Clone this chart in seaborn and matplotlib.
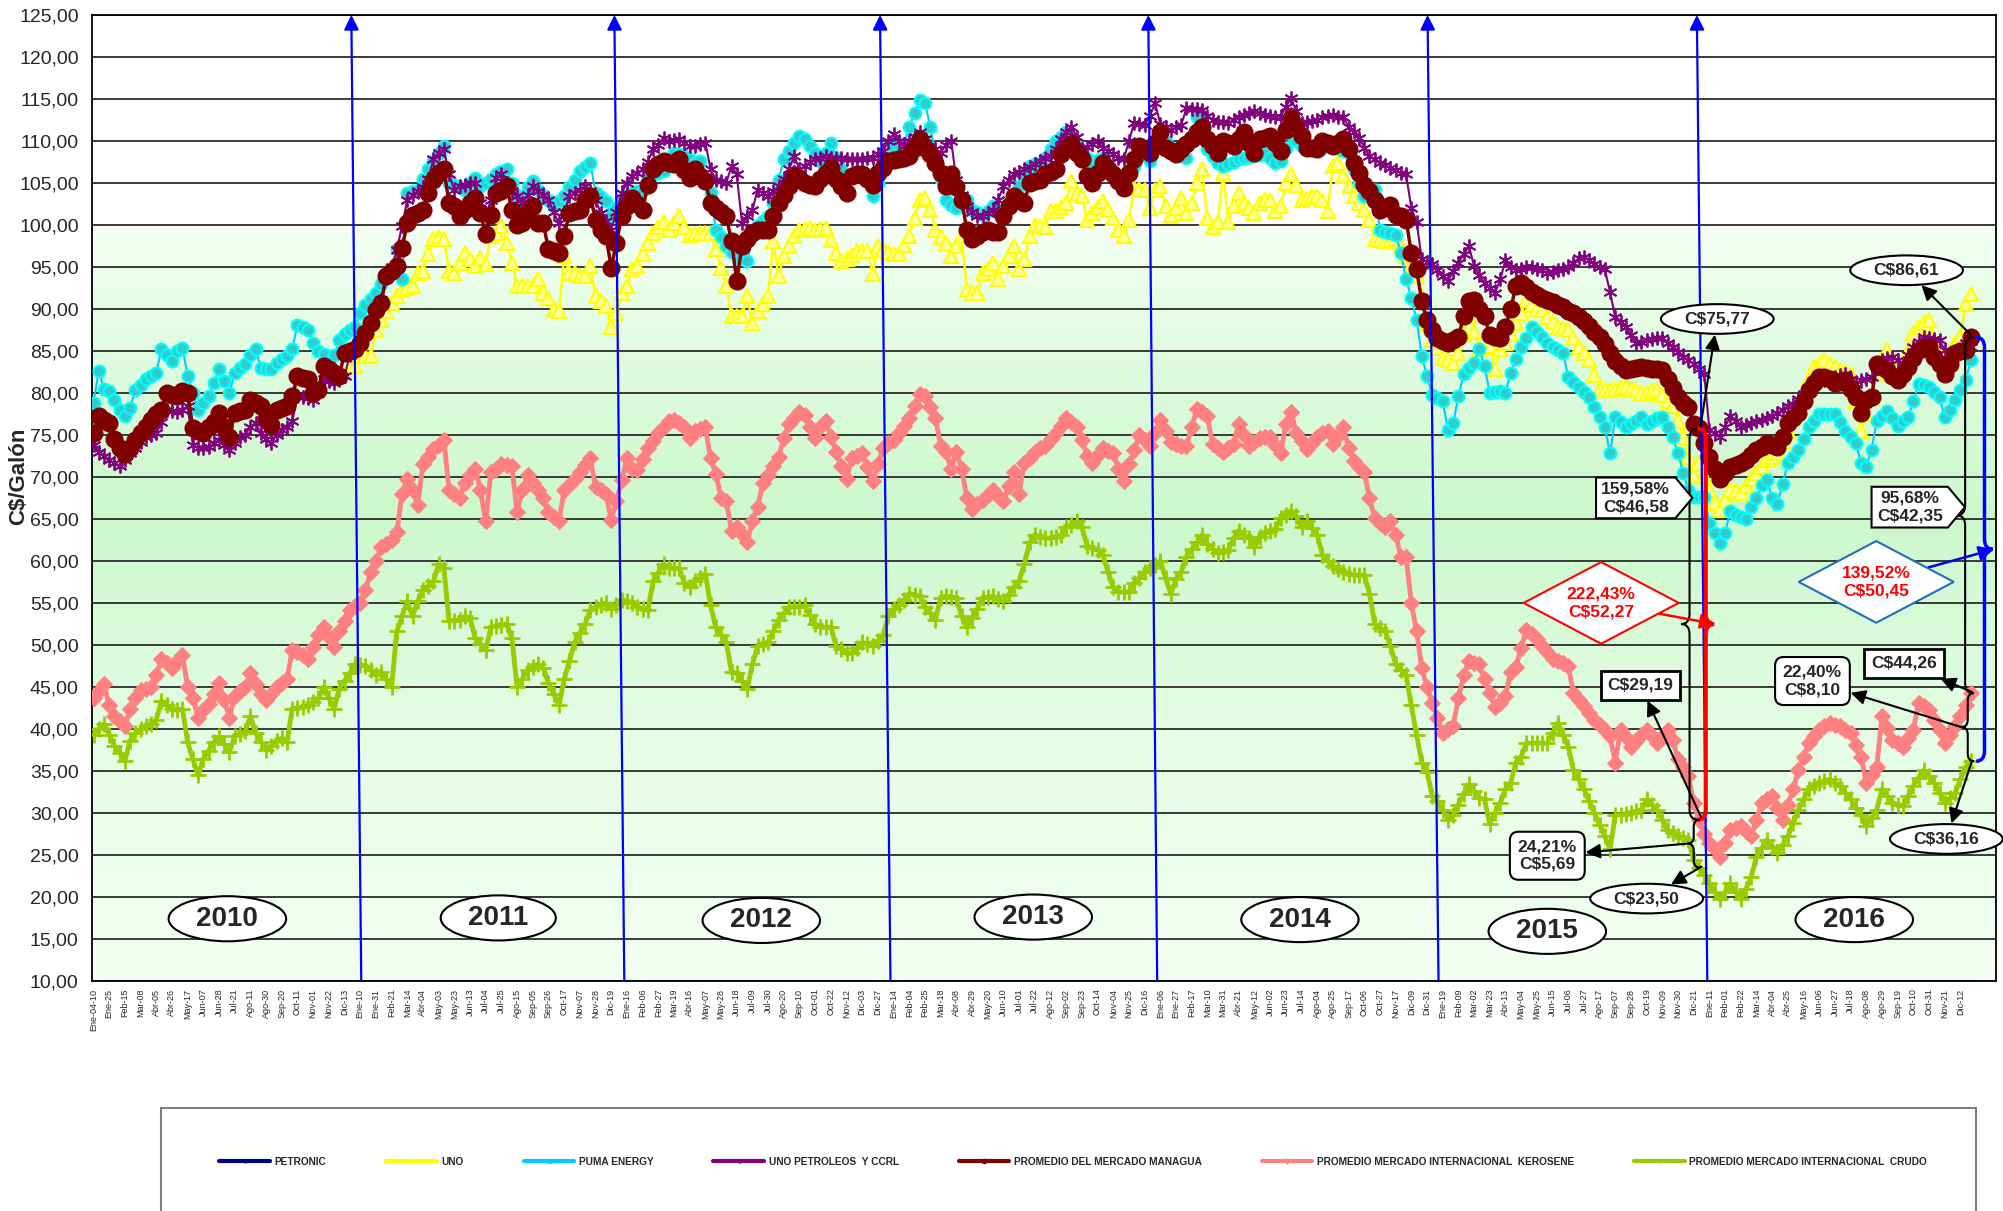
import numpy as np
import matplotlib
matplotlib.use('Agg')
import matplotlib.pyplot as plt
import seaborn as sns
from matplotlib.path import Path
from matplotlib.patches import PathPatch, Rectangle
from matplotlib.lines import Line2D
from matplotlib.colors import LinearSegmentedColormap

sns.set_theme(style='white')
plt.rcParams['font.family'] = ['Liberation Sans', 'DejaVu Sans']

# weekly prices C$/galon, Ene-04-2010 .. Dic-26-2016
promedio = [
    75.2, 77.2, 76.8, 76.4, 74.5, 73.5, 72.7, 73.5, 74.4, 75.2,
    76.0, 76.8, 77.5, 78.0, 80.0, 79.8, 79.6, 80.2, 80.0, 75.8,
    75.5, 75.2, 76.0, 76.5, 77.6, 76.0, 74.8, 77.6, 77.8, 78.0,
    79.2, 78.8, 78.4, 77.0, 76.2, 78.0, 78.2, 78.4, 79.6, 82.0,
    81.8, 81.6, 80.0, 80.4, 83.2, 82.8, 82.4, 82.0, 84.8, 85.0,
    85.2, 86.0, 87.1, 88.3, 89.9, 90.7, 93.9, 94.5, 95.1, 97.3,
    100.2, 101.2, 101.4, 101.8, 103.8, 105.4, 106.2, 106.6, 102.6, 102.2,
    101.0, 101.8, 102.6, 103.2, 101.4, 98.9, 101.2, 103.8, 104.0, 104.6,
    101.8, 100.0, 100.2, 101.5, 102.2, 100.2, 100.2, 97.1, 96.9, 96.7,
    98.7, 101.4, 101.6, 101.8, 103.0, 103.4, 100.6, 99.4, 98.7, 94.9,
    97.9, 101.0, 102.2, 103.2, 102.5, 101.8, 104.8, 106.6, 107.2, 107.6,
    107.4, 107.2, 107.8, 106.5, 105.6, 106.6, 105.8, 105.2, 102.6, 102.0,
    101.5, 101.0, 98.1, 93.3, 97.5, 98.3, 99.0, 99.4, 99.4, 99.4,
    101.0, 102.6, 103.5, 104.6, 105.8, 105.6, 105.0, 104.8, 104.6, 105.5,
    106.2, 106.8, 105.5, 104.6, 103.8, 105.8, 106.0, 106.0, 105.5, 104.8,
    106.2, 106.8, 107.6, 107.7, 107.8, 108.0, 108.2, 109.2, 110.2, 109.2,
    108.4, 107.4, 106.2, 104.6, 106.0, 104.5, 103.0, 99.4, 98.3, 98.7,
    99.1, 99.4, 99.2, 99.1, 101.0, 102.2, 103.4, 103.0, 102.6, 105.0,
    105.2, 105.4, 106.0, 106.3, 106.6, 108.4, 109.0, 109.6, 108.6, 107.8,
    105.8, 105.0, 106.2, 107.4, 106.7, 106.0, 105.2, 104.4, 106.2, 107.8,
    109.4, 109.0, 108.6, 109.8, 111.0, 109.2, 108.8, 108.4, 109.0, 109.6,
    110.2, 111.0, 111.7, 110.2, 109.4, 108.6, 110.0, 109.7, 109.4, 110.2,
    111.0, 109.8, 108.6, 110.2, 110.4, 110.6, 109.7, 108.8, 111.3, 112.7,
    111.5, 110.6, 109.2, 109.1, 109.0, 110.0, 109.7, 109.4, 109.8, 110.2,
    109.0, 107.4, 106.2, 104.8, 104.0, 103.0, 101.8, 102.0, 102.4, 101.2,
    101.0, 100.6, 96.7, 94.7, 90.9, 88.7, 87.5, 86.5, 86.2, 85.9,
    86.3, 86.7, 89.1, 90.9, 91.1, 90.0, 89.1, 86.9, 86.7, 86.5,
    87.9, 90.0, 92.7, 93.1, 92.6, 92.0, 91.6, 91.3, 91.0, 90.8,
    90.5, 90.2, 89.8, 89.5, 89.0, 88.5, 88.0, 87.2, 86.7, 85.8,
    84.8, 83.8, 83.2, 82.7, 82.9, 83.0, 83.1, 83.0, 82.9, 82.8,
    82.7, 81.6, 80.6, 79.5, 78.8, 78.3, 76.3, 75.77, 74.0, 72.4,
    70.9, 69.7, 70.5, 71.2, 71.4, 71.6, 72.0, 72.6, 73.2, 73.6,
    74.0, 73.8, 73.6, 74.8, 76.4, 77.0, 77.6, 79.0, 80.4, 81.2,
    81.9, 81.9, 81.6, 81.2, 81.3, 81.5, 80.5, 79.5, 77.6, 79.1,
    79.5, 83.5, 83.1, 82.7, 82.0, 81.5, 82.3, 83.1, 84.1, 85.1,
    85.3, 85.5, 84.3, 83.5, 82.3, 83.5, 84.7, 85.0, 85.1, 86.61,
]

uno_petroleos = [
    73.8, 73.0, 72.5, 72.0, 71.6, 71.3, 72.0, 72.8, 73.4, 74.2,
    74.8, 75.0, 75.2, 76.5, 78.0, 77.8, 77.7, 78.0, 78.4, 73.8,
    73.4, 73.5, 73.6, 74.0, 74.4, 73.8, 73.2, 74.0, 74.8, 75.0,
    76.0, 76.4, 75.2, 74.5, 74.0, 75.0, 75.6, 76.0, 76.6, 79.6,
    79.5, 79.4, 79.2, 80.0, 81.6, 81.4, 81.2, 81.6, 82.0, 84.5,
    85.0, 86.0, 87.5, 88.5, 90.0, 91.0, 94.0, 95.0, 97.0, 99.9,
    103.0, 103.5, 104.0, 104.5, 105.5, 107.8, 108.5, 109.0, 106.0, 104.2,
    104.6, 104.8, 105.0, 105.0, 102.6, 101.0, 103.0, 105.6, 106.0, 105.0,
    104.0, 103.4, 102.6, 103.5, 104.6, 104.0, 103.5, 103.0, 101.5, 100.2,
    101.5, 103.4, 103.8, 104.2, 104.6, 104.0, 103.0, 101.4, 100.5, 99.4,
    101.5, 103.8, 105.0, 105.8, 106.2, 106.6, 107.5, 109.0, 109.5, 110.4,
    110.0, 110.1, 110.2, 109.8, 109.4, 109.4, 109.6, 109.8, 106.6, 105.4,
    105.2, 105.0, 107.0, 106.0, 100.2, 101.0, 101.8, 104.2, 103.8, 103.4,
    104.0, 104.6, 105.5, 106.6, 108.2, 106.6, 107.0, 107.5, 107.8, 108.0,
    108.2, 108.0, 108.0, 108.0, 107.9, 107.8, 107.8, 107.9, 108.0, 108.0,
    108.4, 108.8, 110.0, 110.8, 110.0, 109.4, 110.0, 110.5, 111.0, 110.2,
    109.4, 109.0, 108.6, 109.5, 110.0, 105.4, 103.5, 102.2, 101.5, 101.0,
    101.0, 101.4, 101.8, 103.0, 104.6, 105.3, 106.0, 106.3, 106.6, 106.9,
    107.2, 107.6, 108.0, 108.2, 109.0, 110.2, 111.0, 111.7, 110.5, 109.0,
    109.3, 109.6, 110.0, 109.2, 108.8, 108.4, 108.0, 107.8, 110.0, 112.1,
    112.0, 111.9, 113.0, 114.5, 112.0, 111.7, 111.3, 111.6, 111.9, 113.9,
    113.8, 113.8, 113.7, 113.0, 112.5, 112.3, 112.2, 112.1, 112.5, 112.9,
    113.1, 113.3, 113.5, 113.3, 113.1, 113.0, 112.9, 112.9, 114.0, 115.1,
    113.5, 112.1, 112.3, 112.4, 112.5, 112.8, 113.0, 113.1, 112.9, 112.9,
    111.7, 111.0, 110.4, 109.2, 108.2, 107.8, 107.4, 107.1, 106.8, 106.5,
    106.2, 106.0, 102.0, 100.4, 95.9, 95.6, 95.3, 94.6, 93.9, 93.3,
    94.5, 95.5, 96.5, 97.5, 95.1, 94.0, 93.1, 92.5, 91.9, 93.5,
    95.8, 95.0, 94.6, 94.8, 95.0, 95.0, 94.8, 94.6, 94.3, 94.4,
    94.6, 94.7, 95.0, 95.5, 96.0, 96.2, 95.8, 95.4, 95.0, 94.7,
    92.0, 89.0, 88.4, 87.8, 86.9, 86.0, 86.1, 86.3, 86.4, 86.5,
    86.5, 86.0, 85.5, 84.9, 84.3, 83.9, 83.5, 82.9, 82.3, 75.6,
    75.2, 74.8, 76.0, 77.2, 76.6, 76.0, 76.2, 76.4, 76.6, 76.8,
    77.0, 77.2, 77.6, 78.0, 78.4, 78.7, 79.3, 79.9, 80.5, 81.1,
    81.3, 81.5, 81.7, 81.9, 82.1, 82.3, 81.7, 81.1, 81.5, 81.7,
    81.9, 83.0, 83.9, 84.1, 84.3, 83.9, 83.5, 84.5, 85.5, 86.1,
    86.7, 86.5, 86.4, 86.3, 85.1, 83.9, 84.5, 85.1, 86.0, 85.5,
]

puma = [
    78.8, 82.6, 80.5, 80.2, 79.2, 78.0, 77.2, 78.2, 80.4, 81.0,
    81.6, 82.0, 82.4, 85.2, 84.5, 83.8, 85.0, 85.4, 82.0, 80.0,
    78.0, 78.8, 79.6, 81.2, 82.8, 81.4, 80.0, 82.4, 83.0, 83.4,
    84.5, 85.2, 83.0, 82.9, 82.8, 83.6, 84.0, 84.4, 85.2, 88.1,
    87.8, 87.5, 86.0, 85.0, 84.6, 83.6, 84.5, 86.3, 87.0, 87.5,
    87.9, 89.5, 90.5, 91.2, 91.9, 93.0, 94.0, 94.3, 97.1, 93.5,
    103.8, 104.0, 104.2, 105.5, 106.6, 107.6, 108.6, 109.4, 105.0, 104.8,
    104.5, 104.2, 105.0, 105.6, 104.6, 105.0, 105.5, 106.0, 106.4, 106.6,
    105.0, 103.5, 103.0, 104.5, 105.2, 104.2, 103.5, 103.0, 102.2, 102.8,
    103.4, 104.5, 105.4, 106.4, 106.9, 107.4, 103.8, 103.3, 102.8, 101.0,
    102.0, 103.0, 103.4, 103.8, 104.0, 104.2, 105.8, 106.0, 106.2, 106.4,
    107.5, 108.6, 108.4, 108.2, 107.8, 107.4, 107.6, 105.5, 103.8, 99.4,
    98.5, 97.5, 96.8, 96.3, 96.0, 95.7, 98.7, 100.0, 100.5, 101.0,
    102.6, 105.4, 107.8, 108.8, 109.8, 110.6, 110.2, 109.4, 108.6, 107.6,
    108.5, 109.8, 108.0, 106.6, 105.6, 106.0, 106.2, 106.1, 106.0, 103.4,
    105.0, 107.2, 108.2, 109.2, 109.4, 109.6, 111.7, 113.3, 114.9, 114.5,
    111.7, 108.2, 105.5, 103.0, 102.4, 102.0, 102.5, 103.0, 101.8, 101.5,
    101.2, 101.7, 102.2, 101.8, 101.4, 102.0, 102.6, 104.6, 105.8, 107.0,
    107.2, 107.4, 108.0, 109.0, 110.0, 110.5, 111.0, 110.2, 109.6, 108.8,
    108.0, 107.4, 107.7, 108.0, 107.0, 106.2, 105.8, 105.4, 106.2, 107.0,
    109.2, 108.4, 107.6, 109.2, 110.8, 110.0, 109.2, 108.7, 108.2, 108.0,
    110.5, 112.9, 110.5, 109.0, 108.2, 107.4, 107.0, 107.2, 107.5, 107.8,
    108.0, 108.1, 108.2, 108.3, 108.4, 108.0, 107.4, 107.6, 109.2, 110.8,
    110.0, 109.4, 109.2, 109.0, 109.1, 109.2, 109.4, 109.6, 109.2, 108.8,
    108.6, 106.6, 105.0, 103.4, 104.0, 104.2, 99.4, 99.2, 99.0, 98.8,
    96.7, 93.5, 91.3, 88.7, 84.4, 82.0, 79.8, 79.4, 79.0, 75.6,
    76.4, 79.6, 82.2, 83.0, 83.6, 85.2, 83.2, 80.0, 80.1, 80.2,
    80.0, 82.4, 84.0, 85.5, 86.5, 87.9, 87.2, 86.7, 86.0, 85.5,
    85.1, 84.8, 81.9, 81.3, 80.7, 80.1, 79.5, 78.3, 77.1, 75.9,
    72.8, 77.1, 76.5, 75.9, 76.3, 76.7, 77.1, 76.3, 76.7, 77.0,
    77.1, 75.9, 74.7, 72.8, 70.5, 68.5, 67.6, 67.6, 67.6, 64.5,
    63.3, 62.1, 63.3, 66.0, 65.5, 65.2, 65.0, 66.4, 67.5, 69.0,
    69.6, 67.5, 66.8, 69.2, 71.6, 72.4, 73.2, 74.5, 75.9, 76.7,
    77.5, 77.5, 77.5, 77.5, 76.5, 75.5, 74.8, 74.0, 71.6, 71.2,
    73.2, 76.7, 77.3, 77.9, 77.0, 76.1, 76.6, 77.1, 79.0, 81.1,
    80.9, 80.7, 80.1, 79.5, 77.1, 78.0, 79.1, 80.3, 81.5, 83.9,
]

# UNO series starts in week 49 (Dic-2010)
uno_start = 49
uno = [
    83.2,
    83.2, 84.4, 84.4, 84.4, 87.5, 88.7, 89.7, 90.7, 91.5, 92.3,
    92.5, 92.7, 94.3, 94.5, 96.5, 98.3, 98.5, 98.3, 94.5, 94.3,
    95.5, 96.7, 95.9, 95.1, 96.1, 95.3, 98.7, 99.0, 99.9, 97.9,
    95.5, 92.7, 92.7, 92.7, 92.7, 93.5, 91.9, 91.3, 89.9, 89.7,
    96.3, 94.3, 94.3, 93.9, 93.9, 95.1, 91.5, 90.9, 90.3, 87.9,
    89.5, 91.9, 92.7, 94.7, 95.1, 96.5, 97.9, 99.0, 99.7, 100.4,
    99.4, 100.2, 101.0, 99.8, 98.8, 98.9, 99.0, 99.0, 99.0, 97.1,
    94.9, 92.7, 89.1, 89.1, 89.1, 91.5, 88.3, 89.7, 90.6, 91.5,
    98.1, 93.9, 96.3, 97.5, 98.7, 99.4, 99.5, 99.6, 99.4, 99.5,
    99.6, 98.2, 96.7, 95.7, 95.9, 96.4, 96.9, 96.9, 96.9, 94.1,
    97.5, 97.1, 96.8, 96.5, 96.5, 97.6, 98.7, 100.8, 103.0, 103.2,
    101.8, 99.4, 98.6, 97.9, 96.3, 97.5, 98.7, 92.3, 91.9, 91.9,
    94.3, 94.7, 95.5, 93.5, 95.1, 96.3, 97.5, 94.7, 95.9, 98.7,
    100.0, 99.9, 99.8, 101.6, 101.6, 102.1, 102.6, 105.2, 103.8, 103.4,
    100.6, 101.4, 102.1, 102.8, 101.8, 100.8, 99.4, 98.7, 100.6, 104.4,
    104.3, 104.2, 102.0, 104.2, 104.6, 102.2, 101.2, 102.0, 103.2, 101.4,
    102.6, 105.0, 106.6, 100.8, 99.8, 100.3, 106.2, 100.4, 102.2, 103.8,
    102.6, 102.0, 101.4, 102.6, 103.0, 103.0, 101.6, 102.2, 105.0, 106.0,
    104.8, 103.0, 103.2, 103.4, 103.4, 103.0, 101.6, 107.0, 107.4, 105.8,
    104.6, 103.4, 102.6, 101.8, 100.6, 98.3, 98.2, 98.1, 98.2, 98.3,
    97.5, 96.3, 95.1, 93.9, 91.5, 88.3, 86.3, 85.3, 84.2, 83.9,
    83.6, 84.8, 87.0, 89.1, 87.2, 85.2, 85.4, 85.6, 82.8, 85.2,
    86.0, 87.0, 88.3, 89.5, 91.1, 90.5, 90.0, 89.9, 89.0, 88.4,
    87.9, 87.7, 87.5, 86.5, 85.5, 84.7, 83.9, 82.1, 80.4, 80.4,
    80.4, 80.5, 80.6, 80.7, 80.5, 80.3, 80.0, 80.0, 80.2, 80.4,
    79.7, 79.0, 78.4, 76.6, 74.8, 72.4, 70.1, 71.6, 70.1, 68.5,
    66.9, 66.1, 67.3, 68.5, 68.3, 68.1, 68.9, 69.7, 70.5, 71.2,
    72.0, 72.4, 72.8, 74.2, 75.5, 77.0, 78.4, 80.0, 81.6, 83.1,
    83.5, 83.9, 83.5, 83.1, 82.7, 82.5, 82.3, 79.0, 75.5, 77.5,
    79.5, 82.3, 84.0, 85.1, 84.0, 83.0, 82.7, 84.9, 87.1, 87.9,
    88.3, 88.7, 86.3, 85.0, 83.5, 84.7, 85.9, 86.7, 90.6, 91.8,
]

kerosene = [
    43.7, 44.5, 45.3, 42.8, 41.5, 41.0, 40.4, 42.4, 43.7, 44.6,
    44.8, 45.0, 46.4, 48.3, 47.8, 47.2, 48.1, 48.8, 45.0, 43.7,
    41.3, 42.2, 43.0, 44.2, 45.5, 43.4, 41.3, 43.9, 44.5, 45.0,
    46.6, 45.4, 44.2, 43.5, 44.2, 45.0, 45.5, 45.9, 49.4, 49.1,
    48.8, 48.3, 49.8, 51.2, 52.1, 50.9, 49.7, 51.6, 52.8, 54.1,
    54.6, 55.0, 56.5, 58.7, 60.0, 61.6, 62.0, 62.5, 63.4, 68.0,
    69.8, 68.4, 66.6, 71.5, 72.4, 73.3, 73.8, 74.4, 68.4, 68.0,
    67.5, 69.3, 70.2, 71.0, 68.4, 64.7, 70.6, 71.0, 71.5, 71.4,
    71.3, 65.8, 68.4, 70.2, 69.3, 68.4, 67.5, 65.8, 65.2, 64.7,
    68.4, 69.0, 69.7, 70.6, 71.4, 72.2, 68.8, 68.4, 68.0, 64.9,
    67.1, 69.6, 72.2, 71.0, 70.8, 72.1, 73.5, 74.3, 75.2, 76.0,
    76.6, 76.8, 76.4, 75.9, 74.6, 75.5, 75.7, 75.9, 72.2, 70.4,
    67.5, 67.1, 63.6, 64.0, 63.2, 62.3, 64.7, 66.4, 69.3, 70.2,
    71.3, 72.4, 74.6, 76.3, 77.0, 77.7, 77.4, 76.0, 74.6, 75.9,
    76.6, 74.8, 73.0, 71.3, 69.7, 72.2, 72.5, 72.8, 71.2, 69.5,
    71.5, 73.5, 74.0, 74.4, 75.2, 76.1, 77.0, 78.5, 79.9, 79.6,
    78.3, 77.0, 73.7, 73.0, 71.0, 73.0, 71.0, 67.5, 66.2, 66.8,
    67.3, 67.9, 68.4, 67.7, 67.1, 68.9, 70.6, 68.0, 71.7, 72.3,
    73.0, 73.4, 73.7, 74.5, 75.2, 76.1, 77.0, 76.5, 75.9, 74.4,
    72.5, 71.7, 72.6, 73.5, 73.1, 72.8, 71.0, 69.5, 71.5, 73.2,
    75.0, 74.4, 73.7, 75.2, 76.8, 75.5, 74.1, 73.9, 73.7, 73.7,
    76.0, 78.1, 77.7, 77.2, 73.9, 73.5, 73.0, 73.5, 73.9, 76.3,
    75.0, 73.7, 74.2, 74.6, 74.7, 74.8, 73.8, 72.8, 76.3, 77.7,
    75.2, 74.3, 73.3, 74.0, 74.8, 75.2, 75.5, 73.9, 74.9, 75.9,
    73.5, 71.9, 71.2, 70.6, 67.5, 65.1, 64.5, 64.0, 64.7, 63.1,
    60.5, 60.5, 55.0, 51.6, 47.2, 45.0, 43.1, 41.3, 39.5, 40.0,
    40.4, 43.7, 46.4, 48.1, 47.9, 47.7, 45.9, 44.3, 42.6, 43.1,
    43.9, 46.8, 47.4, 49.6, 51.8, 51.3, 50.7, 49.9, 49.1, 48.3,
    48.1, 47.9, 47.5, 44.3, 43.5, 42.7, 41.9, 41.1, 40.5, 39.9,
    39.1, 36.0, 39.9, 39.0, 37.9, 38.6, 39.3, 39.9, 39.1, 38.3,
    39.1, 39.9, 38.7, 36.4, 35.5, 34.4, 31.2, 29.19, 27.5, 26.4,
    25.7, 24.7, 26.4, 28.0, 28.2, 28.4, 27.8, 27.2, 29.2, 31.2,
    31.6, 32.0, 30.6, 29.2, 31.0, 32.8, 35.1, 36.7, 38.3, 39.1,
    39.9, 40.3, 40.7, 40.5, 40.3, 39.9, 39.5, 38.1, 36.7, 33.6,
    34.5, 35.5, 41.5, 40.1, 38.7, 38.3, 37.9, 38.9, 39.9, 43.1,
    42.7, 42.3, 41.1, 39.9, 38.3, 39.3, 40.3, 41.5, 42.9, 44.26,
]

crudo = [
    39.3, 40.0, 40.6, 39.3, 38.0, 37.1, 36.2, 38.6, 39.5, 40.0,
    40.3, 40.6, 41.1, 43.3, 42.8, 42.4, 42.2, 42.4, 38.4, 36.4,
    34.5, 36.4, 37.4, 38.4, 39.1, 38.2, 37.3, 39.1, 39.4, 39.7,
    41.5, 39.5, 38.5, 37.5, 38.0, 38.6, 38.9, 38.4, 42.4, 42.5,
    42.6, 42.8, 43.2, 43.7, 45.0, 43.7, 42.4, 44.8, 45.7, 46.6,
    47.7, 47.6, 47.5, 47.0, 46.4, 46.8, 45.9, 45.0, 51.6, 53.4,
    55.2, 53.4, 55.2, 56.5, 57.0, 57.6, 59.6, 59.1, 52.8, 52.9,
    53.0, 53.4, 53.2, 50.8, 50.1, 49.4, 52.1, 52.3, 52.4, 52.5,
    50.8, 45.0, 45.9, 47.0, 47.4, 47.7, 47.2, 45.5, 44.2, 42.8,
    45.9, 48.1, 50.3, 51.4, 52.5, 54.1, 54.5, 54.8, 55.0, 54.3,
    54.8, 55.4, 55.2, 55.0, 54.5, 54.3, 54.1, 57.6, 58.6, 59.6,
    59.1, 59.1, 59.1, 57.4, 56.9, 57.6, 58.0, 58.5, 54.7, 52.1,
    51.2, 50.3, 46.8, 46.6, 45.7, 44.8, 47.7, 49.9, 50.1, 50.3,
    51.6, 53.0, 53.8, 54.5, 54.5, 54.5, 54.7, 53.6, 52.5, 52.1,
    52.1, 52.1, 49.9, 49.5, 49.0, 49.0, 49.6, 50.3, 50.1, 49.9,
    50.5, 51.2, 53.4, 54.3, 54.8, 55.4, 56.1, 56.0, 55.8, 54.5,
    53.8, 53.0, 55.6, 55.8, 55.7, 55.6, 53.4, 52.1, 53.2, 54.3,
    55.6, 55.7, 55.8, 55.5, 55.2, 56.0, 56.9, 57.6, 59.6, 62.2,
    63.1, 62.9, 62.7, 62.7, 62.9, 63.1, 64.0, 64.3, 64.7, 64.0,
    61.8, 61.5, 61.3, 60.7, 58.7, 56.9, 56.3, 56.3, 56.3, 57.4,
    58.0, 58.7, 59.1, 59.5, 60.0, 58.0, 56.1, 57.8, 58.7, 60.5,
    61.4, 62.2, 63.1, 62.0, 61.4, 60.9, 61.1, 61.3, 62.7, 63.6,
    63.1, 62.7, 61.6, 62.9, 63.3, 63.6, 63.8, 65.1, 65.5, 66.0,
    65.3, 64.0, 64.7, 63.9, 63.1, 60.7, 60.0, 59.4, 59.0, 58.7,
    58.5, 58.3, 58.3, 58.3, 56.1, 52.5, 52.0, 51.6, 49.9, 47.7,
    47.0, 46.4, 42.8, 39.3, 36.0, 34.9, 32.0, 31.4, 30.3, 29.2,
    29.8, 31.0, 32.3, 33.4, 32.6, 31.8, 31.6, 28.7, 30.0, 31.2,
    32.8, 33.6, 36.0, 36.7, 38.3, 38.3, 38.3, 38.3, 38.3, 39.5,
    40.7, 39.3, 37.9, 35.1, 34.0, 32.8, 31.4, 30.0, 28.6, 27.2,
    25.7, 29.7, 29.8, 29.9, 30.0, 30.2, 30.4, 31.6, 31.0, 30.4,
    29.2, 28.0, 27.6, 27.2, 27.0, 26.8, 24.4, 23.50, 22.6, 21.6,
    20.6, 19.7, 20.6, 21.6, 20.6, 19.7, 21.0, 22.4, 24.8, 25.8,
    26.8, 26.0, 25.2, 26.2, 27.2, 28.8, 30.4, 31.6, 32.8, 33.2,
    33.6, 33.8, 34.0, 33.6, 33.2, 32.4, 31.6, 30.6, 29.7, 28.4,
    29.4, 30.4, 32.8, 32.0, 31.2, 31.0, 30.8, 32.0, 33.2, 34.2,
    35.1, 34.4, 33.6, 32.4, 31.2, 31.8, 32.4, 34.0, 35.5, 36.16,
]

tick_labels = [
    'Ene-04-10', 'Ene-25', 'Feb-15', 'Mar-08', 'Abr-05', 'Abr-26', 'May-17', 'Jun-07', 'Jun-28', 'Jul-21',
    'Ago-11', 'Ago-30', 'Sep-20', 'Oct-11', 'Nov-01', 'Nov-22', 'Dic-13', 'Ene-10', 'Ene-31', 'Feb-21',
    'Mar-14', 'Abr-04', 'May-03', 'May-23', 'Jun-13', 'Jul-04', 'Jul-25', 'Ago-15', 'Sep-05', 'Sep-26',
    'Oct-17', 'Nov-07', 'Nov-28', 'Dic-19', 'Ene-16', 'Feb-06', 'Feb-27', 'Mar-19', 'Abr-16', 'May-07',
    'May-28', 'Jun-18', 'Jul-09', 'Jul-30', 'Ago-20', 'Sep-10', 'Oct-01', 'Oct-22', 'Nov-12', 'Dic-03',
    'Dic-27', 'Ene-14', 'Feb-04', 'Feb-25', 'Mar-18', 'Abr-08', 'Abr-29', 'May-20', 'Jun-10', 'Jul-01',
    'Jul-22', 'Ago-12', 'Sep-02', 'Sep-23', 'Oct-14', 'Nov-04', 'Nov-25', 'Dic-16', 'Ene-06', 'Ene-27',
    'Feb-17', 'Mar-10', 'Mar-31', 'Abr-21', 'May-12', 'Jun-02', 'Jun-23', 'Jul-14', 'Ago-04', 'Ago-25',
    'Sep-17', 'Oct-06', 'Oct-27', 'Nov-17', 'Dic-09', 'Dic-31', 'Ene-19', 'Feb-09', 'Mar-02', 'Mar-23',
    'Abr-13', 'May-04', 'May-25', 'Jun-15', 'Jul-06', 'Jul-27', 'Ago-17', 'Sep-07', 'Sep-28', 'Oct-19',
    'Nov-09', 'Nov-30', 'Dic-21', 'Ene-11', 'Feb-01', 'Feb-22', 'Mar-14', 'Abr-04', 'Abr-25', 'May-16',
    'Jun-06', 'Jun-27', 'Jul-18', 'Ago-08', 'Ago-29', 'Sep-19', 'Oct-10', 'Oct-31', 'Nov-21', 'Dic-12',
]

years = ['2010', '2011', '2012', '2013', '2014', '2015', '2016']
year_x = [25.6, 77.4, 127.7, 179.7, 230.7, 278.0, 336.7]
year_y = [17.4, 17.5, 17.2, 17.6, 17.3, 15.9, 17.3]
sep_bottom = [51.2, 101.5, 152.4, 203.4, 257.2, 308.6]
sep_top = [49.3, 99.6, 150.4, 201.7, 255.1, 306.6]

weeks = np.arange(len(promedio))
XMIN, XMAX = -0.3, 363.8

fig = plt.figure(figsize=(20.03, 12.11), dpi=100)
ax = fig.add_axes([0.0459, 0.19, 0.9506, 0.7977])

# plot area background
bg = LinearSegmentedColormap.from_list('bg', [
    (0.0, '#f3fff3'), (0.25, '#e4fde4'), (0.48, '#ccf8cc'),
    (0.70, '#e6fde6'), (0.7825, '#f4fff4'), (0.783, '#ffffff'), (1.0, '#ffffff')])
ax.imshow(np.linspace(0, 1, 400).reshape(-1, 1), extent=(XMIN, XMAX, 10, 125),
          origin='lower', aspect='auto', cmap=bg, zorder=0)

common = dict(ax=ax, estimator=None, sort=False, legend=False)
sns.lineplot(x=np.arange(uno_start, uno_start + len(uno)), y=uno, color='#ffff00', lw=1.8,
             marker='^', markersize=10, markerfacecolor='#ffff99', markeredgecolor='#ffff00',
             markeredgewidth=1.5, zorder=3, **common)
sns.lineplot(x=weeks, y=puma, color='#00ccff', lw=1.5, marker='o', markersize=8.5,
             markerfacecolor='#33cccc', markeredgecolor='#00ffff', markeredgewidth=1.5, zorder=4, **common)
sns.lineplot(x=weeks, y=uno_petroleos, color='#800080', lw=1.5, marker=(6, 2, 0), markersize=10,
             markeredgecolor='#800080', markeredgewidth=1.3, zorder=5, **common)
sns.lineplot(x=weeks, y=promedio, color='#800000', lw=2.5, marker='o', markersize=12,
             markerfacecolor='#800000', markeredgecolor='#800000', markeredgewidth=1, zorder=6, **common)
sns.lineplot(x=weeks, y=kerosene, color='#ff8080', lw=3.5, marker='D', markersize=8,
             markerfacecolor='#ff8080', markeredgecolor='#ff8080', zorder=7, **common)
sns.lineplot(x=weeks, y=crudo, color='#99cc00', lw=3.5, marker='+', markersize=11,
             markeredgecolor='#99cc00', markeredgewidth=2, zorder=8, **common)

ax.set_xlim(XMIN, XMAX)
ax.set_ylim(10, 125)
ax.set_yticks(np.arange(10, 126, 5))
ax.set_yticklabels([f'{v:.2f}'.replace('.', ',') for v in np.arange(10, 126, 5)], fontsize=14)
ax.set_xticks(np.arange(0, 3 * len(tick_labels), 3))
ax.set_xticklabels(tick_labels, rotation=90, fontsize=6.5)
ax.set_xticks(np.arange(0, 364), minor=True)
ax.tick_params(axis='x', which='both', length=3.5, width=1, color='black', direction='out', pad=2)
ax.tick_params(axis='y', length=4.5, width=1, color='black', direction='out', pad=5)
ax.yaxis.grid(True, color='#2b2b2b', lw=1.3)
ax.xaxis.grid(False)
ax.set_axisbelow(True)
for s in ax.spines.values():
    s.set_color('black')
    s.set_linewidth(1.3)
ax.set_xlabel('')
ax.set_ylabel('')
fig.text(19 / 2003, 0.607, 'C$/Galón', rotation=90, ha='center', va='center',
         fontsize=16, fontweight='bold')

# year separators
for xb, xt in zip(sep_bottom, sep_top):
    ax.annotate('', xy=(xt, 125), xytext=(xb, 10), annotation_clip=False,
                arrowprops=dict(arrowstyle='-|>', color='#0000ff', lw=1.6, mutation_scale=22,
                                shrinkA=0, shrinkB=0), zorder=9)


def make_ellipse(bf):
    def ellipse_box(x0, y0, width, height, mutation_size):
        c = Path.unit_circle()
        a = width / 2 * 1.45 + 0.5 * mutation_size
        b = height / 2 * bf + 0.25 * mutation_size
        return Path(c.vertices * [a, b] + [x0 + width / 2, y0 + height / 2], c.codes)
    return ellipse_box


def homeplate(x0, y0, width, height, mutation_size):
    p = 0.3 * mutation_size
    x0, y0, w, h = x0 - p, y0 - p * 0.8, width + 2 * p, height + 1.6 * p
    t = h * 0.42
    return Path([(x0, y0), (x0 + w, y0), (x0 + w + t, y0 + h / 2), (x0 + w, y0 + h),
                 (x0, y0 + h), (x0, y0)], closed=True)


def diamond(x0, y0, width, height, mutation_size):
    cx, cy = x0 + width / 2, y0 + height / 2
    a, b = width * 1.05 + 0.3 * mutation_size, height * 1.1 + 0.3 * mutation_size
    return Path([(cx - a, cy), (cx, cy - b), (cx + a, cy), (cx, cy + b), (cx - a, cy)], closed=True)


def brace(x, y_top, y_bot, side, color, lw, w=1.6, r=1.2):
    ym = (y_top + y_bot) / 2
    t, e = side * w, -side * w
    verts = [(x + e, y_top), (x, y_top), (x, y_top - r), (x, ym + r), (x, ym), (x + t, ym),
             (x, ym), (x, ym - r), (x, y_bot + r), (x, y_bot), (x + e, y_bot)]
    codes = [Path.MOVETO, Path.CURVE3, Path.CURVE3, Path.LINETO, Path.CURVE3, Path.CURVE3,
             Path.CURVE3, Path.CURVE3, Path.LINETO, Path.CURVE3, Path.CURVE3]
    ax.add_patch(PathPatch(Path(verts, codes), fc='none', ec=color, lw=lw, zorder=10))
    return (x + t, ym)


for yx, yy, name in zip(year_x, year_y, years):
    ax.text(yx, yy, name, ha='center', va='center', fontsize=20, fontweight='bold', zorder=11,
            bbox=dict(boxstyle=make_ellipse(1.2), fc='white', ec='black', lw=1.5))

tip_1558 = brace(305.2, 75.77, 29.19, -1, 'black', 1.5)
tip_red = brace(308.3, 75.77, 29.19, 1, '#ff0000', 3)
tip_2421 = brace(306.0, 29.19, 23.50, -1, 'black', 1.5, w=1.2, r=0.8)
tip_9568 = brace(357.9, 86.61, 44.26, -1, 'black', 1.5)
tip_2240 = brace(358.4, 44.26, 36.16, -1, 'black', 1.5, w=1.2, r=0.9)
tip_blue = brace(361.6, 86.61, 36.16, 1, '#0000ff', 2.5)

txt = dict(ha='center', va='center', fontsize=12.5, fontweight='bold', zorder=12,
           multialignment='center', annotation_clip=False)
arrow_k = dict(arrowstyle='<|-', color='black', lw=1.5, mutation_scale=22, shrinkA=0, shrinkB=0)
ell = dict(boxstyle=make_ellipse(1.4), fc='white', ec='black', lw=1.5)
sq = dict(boxstyle='square,pad=0.4', fc='white', ec='black', lw=2)
rnd = dict(boxstyle='round,pad=0.45,rounding_size=0.5', fc='white', ec='black', lw=1.5)

ax.annotate('C$75,77', xy=(307.3, 76.0), xytext=(310.5, 88.8), bbox=ell, arrowprops=arrow_k, **txt)
ax.annotate('C$86,61', xy=(359.0, 86.9), xytext=(346.7, 94.6), bbox=ell, arrowprops=arrow_k, **txt)
ax.annotate('C$23,50', xy=(307.5, 23.6), xytext=(297.0, 19.8), bbox=ell, arrowprops=arrow_k, **txt)
ax.annotate('C$36,16', xy=(359.1, 36.0), xytext=(354.3, 26.9), bbox=ell, arrowprops=arrow_k, **txt)
ax.annotate('C$29,19', xy=(307.4, 29.5), xytext=(295.8, 45.2), bbox=sq, arrowprops=arrow_k, **txt)
ax.annotate('C$44,26', xy=(359.2, 44.4), xytext=(346.2, 47.8), bbox=sq, arrowprops=arrow_k, **txt)
ax.annotate('24,21%\nC$5,69', xy=tip_2421, xytext=(278.0, 24.9), bbox=rnd, arrowprops=arrow_k, **txt)
ax.annotate('22,40%\nC$8,10', xy=tip_2240, xytext=(328.7, 45.7), bbox=rnd, arrowprops=arrow_k, **txt)
ax.text(294.9, 67.5, '159,58%\nC$46,58', ha='center', va='center', fontsize=12.5, fontweight='bold',
        zorder=12, bbox=dict(boxstyle=homeplate, fc='white', ec='black', lw=1.5))
ax.text(347.3, 66.4, '95,68%\nC$42,35', ha='center', va='center', fontsize=12.5, fontweight='bold',
        zorder=12, bbox=dict(boxstyle=homeplate, fc='white', ec='black', lw=1.5))
ax.annotate('222,43%\nC$52,27', xy=(tip_red[0] + 0.2, tip_red[1]), xytext=(288.3, 55.0), color='#ff0000',
            bbox=dict(boxstyle=diamond, fc='white', ec='#ff0000', lw=1.5),
            arrowprops=dict(arrowstyle='-|>', color='#ff0000', lw=1.8, mutation_scale=22,
                            shrinkA=0, shrinkB=0), **txt)
ax.annotate('139,52%\nC$50,45', xy=(tip_blue[0] + 0.2, tip_blue[1]), xytext=(340.9, 57.5), color='#ff0000',
            bbox=dict(boxstyle=diamond, fc='white', ec='#1f6fbf', lw=1.5),
            arrowprops=dict(arrowstyle='-|>', color='#0000ff', lw=1.8, mutation_scale=22,
                            shrinkA=0, shrinkB=0), **txt)

# legend
fig.patches.append(Rectangle((161 / 2003, -0.02), (1976 - 161) / 2003, 0.105, transform=fig.transFigure,
                             fc='white', ec='#808080', lw=1.5, zorder=0))
handles = [
    Line2D([], [], color='#000080', lw=3, marker='o', markersize=2),
    Line2D([], [], color='#ffff00', lw=3, marker='^', markersize=3),
    Line2D([], [], color='#00ccff', lw=3, marker='o', markersize=3),
    Line2D([], [], color='#800080', lw=3, marker=(6, 2, 0), markersize=3),
    Line2D([], [], color='#800000', lw=3, marker='o', markersize=3),
    Line2D([], [], color='#ff8080', lw=3, marker='D', markersize=2.5),
    Line2D([], [], color='#99cc00', lw=3, marker='+', markersize=3),
]
names = ['PETRONIC', 'UNO', 'PUMA ENERGY', 'UNO PETROLEOS  Y CCRL', 'PROMEDIO DEL MERCADO MANAGUA',
         'PROMEDIO MERCADO INTERNACIONAL  KEROSENE', 'PROMEDIO MERCADO INTERNACIONAL  CRUDO']
fig.legend(handles, names, loc='center left', bbox_to_anchor=(0.105, 0.0405), ncol=7, frameon=False,
           handlelength=5.0, handletextpad=0.45, columnspacing=5.9,
           prop={'family': ['Liberation Sans Narrow', 'Liberation Sans', 'DejaVu Sans'],
                 'weight': 'bold', 'size': 7.3})

fig.savefig('out.png', dpi=100)
